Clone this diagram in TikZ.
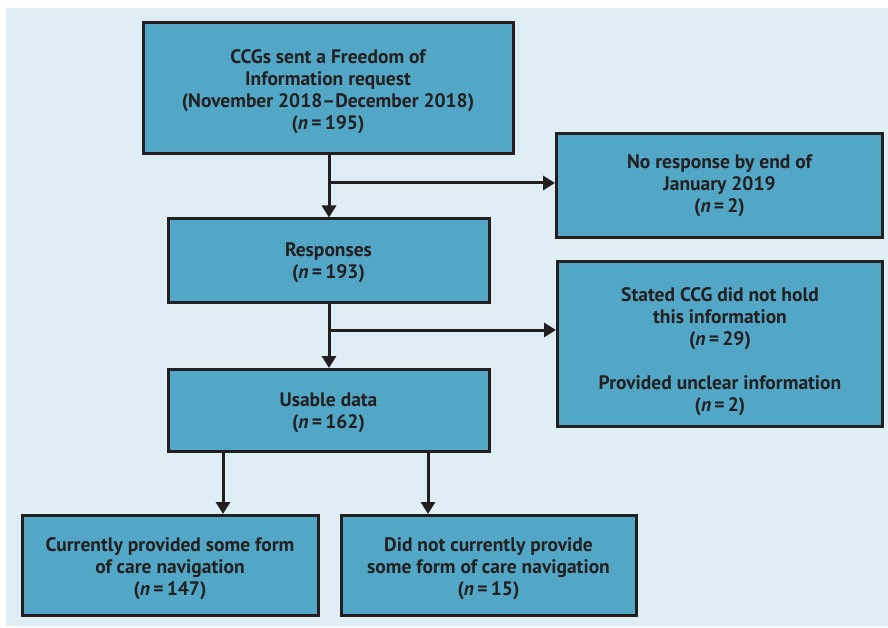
\documentclass[tikz,border=0pt]{standalone}
\usepackage{fontspec}
\setmainfont{PT Sans}
\usetikzlibrary{arrows.meta}
\definecolor{bgblue}{HTML}{DFEDF5}
\definecolor{boxblue}{HTML}{52A7C6}
\definecolor{ink}{HTML}{231F20}
\tikzset{
  x=1pt, y=-1pt,
  boxnode/.style={draw=ink, line width=3pt, fill=boxblue, align=center,
    inner sep=0pt, font=\fontsize{19.5}{22}\selectfont\bfseries, text=ink},
  arr/.style={draw=ink, line width=3pt, -{Triangle[width=14pt,length=12pt]}}
}
\newcommand{\nn}[1]{(\textit{n}\,=\,#1)}
\newcommand{\topstrut}[1]{\rule{0pt}{#1}}
\begin{document}
\begin{tikzpicture}
\useasboundingbox (0,0) rectangle (888,628);
\fill[white] (0,0) rectangle (888,628);
\fill[bgblue] (6,8) rectangle (888,626);

\node[boxnode, minimum width=370pt, minimum height=131pt] (b1) at (328,88.5)
  {\topstrut{20pt}CCGs sent a Freedom of\\Information request\\(November 2018--December 2018)\\\nn{195}};
\node[boxnode, minimum width=321pt, minimum height=83pt] (b2) at (328.5,260.5)
  {\topstrut{19pt}Responses\\\nn{193}};
\node[boxnode, minimum width=321pt, minimum height=82pt] (b3) at (328.5,410.5)
  {\topstrut{19pt}Usable data\\\nn{162}};
\node[boxnode, minimum width=326pt, minimum height=104pt] (ra) at (719.5,186)
  {No response by end of\\January 2019\\\nn{2}};
\node[boxnode, minimum width=325pt, minimum height=165pt] (rb) at (720,344)
  {\topstrut{30pt}Stated CCG did not hold\\this information\\\nn{29}\\[22pt]Provided unclear information\\\nn{2}};
\node[boxnode, minimum width=296pt, minimum height=100pt] (l1) at (170,565.5)
  {\topstrut{20pt}Currently provided some form\\of care navigation\\\nn{147}};
\node[boxnode, minimum width=295pt, minimum height=100pt] (l2) at (488.5,565.5)
  {\topstrut{20pt}Did not currently provide\\some form of care navigation\\\nn{15}};

\coordinate (j1) at (329,183);
\coordinate (j2) at (329,330);
\coordinate (d1) at (223,451);
\coordinate (d2) at (428,451);

\draw[arr] (b1.south -| j1) -- (b2.north -| j1);
\draw[arr] (j1) -- (j1 -| ra.west);
\draw[arr] (b2.south -| j2) -- (b3.north -| j2);
\draw[arr] (j2) -- (j2 -| rb.west);
\draw[arr] (b3.south -| d1) -- (l1.north -| d1);
\draw[arr] (b3.south -| d2) -- (l2.north -| d2);
\end{tikzpicture}
\end{document}
